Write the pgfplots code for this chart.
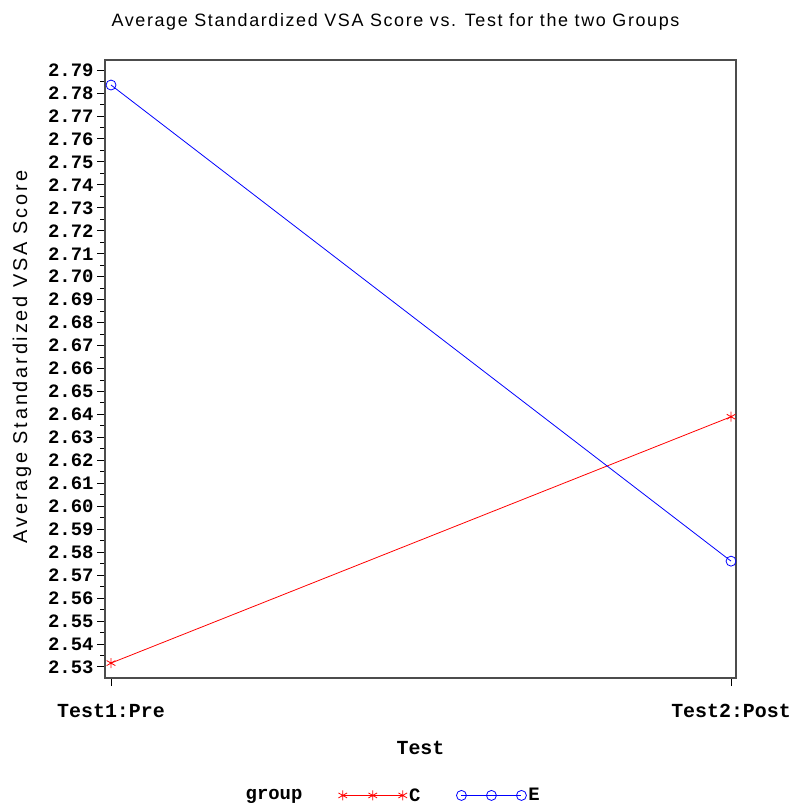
\documentclass[border=0pt]{standalone}
\usepackage{fontspec}
\setmainfont{Liberation Sans}
\newfontfamily\sasmono{Liberation Mono}
\newfontfamily\titlefont{Liberation Sans}[LetterSpace=9]
\newfontfamily\labelfont{Liberation Sans}[LetterSpace=14]
\usepackage{pgfplots}
\pgfplotsset{compat=1.18}

\begin{document}
\begin{tikzpicture}[x=1bp,y=1bp]
\begin{axis}[
  at={(0bp,0bp)}, anchor=south west,
  scale only axis,
  width=631bp, height=618bp,
  xmin=-0.0097, xmax=1.008,
  ymin=2.5252, ymax=2.7944,
  xtick={0,1},
  xticklabels={Test1:Pre,Test2:Post},
  ytick distance=0.01,
  minor y tick num=1,
  tick align=outside,
  major tick length=8bp,
  minor tick length=5bp,
  xtick pos=bottom, ytick pos=left,
  tick style={black, line width=1pt},
  axis line style={black!70, line width=1.5pt},
  /pgf/number format/assume math mode=true,
  yticklabel style={font=\fontsize{19}{19}\selectfont\sasmono\bfseries,
    /pgf/number format/fixed, /pgf/number format/fixed zerofill,
    /pgf/number format/precision=2},
  xticklabel style={font=\fontsize{20}{20}\selectfont\sasmono\bfseries, yshift=-15bp},
  xlabel={Test},
  xlabel style={font=\fontsize{20}{20}\selectfont\sasmono\bfseries, yshift=-16bp},
  ylabel={Average Standardized VSA Score},
  ylabel style={font=\fontsize{20}{20}\selectfont\labelfont, yshift=10bp, xshift=12bp},
  title={Average Standardized VSA Score vs. Test for the two Groups},
  title style={font=\fontsize{18}{18}\selectfont\titlefont, yshift=20bp, xshift=-25bp},
  legend columns=3,
  legend style={at={(0.456,-0.19)}, anchor=center, draw=none,
    font=\fontsize{19}{19}\selectfont\sasmono\bfseries,
    /tikz/every even column/.append style={column sep=34bp}},
  legend image code/.code={\draw[#1] plot coordinates {(0bp,0bp) (30bp,0bp) (60bp,0bp)};},
]
\addlegendimage{empty legend}
\addlegendentry{group}
\addplot[red, line width=0.8pt, mark=asterisk, mark size=5bp] coordinates {
  (0,2.5317) (1,2.6390)};
\addlegendentry{C}
\addplot[blue, line width=0.8pt, mark=o, mark size=5bp] coordinates {
  (0,2.7835) (1,2.5761)};
\addlegendentry{E}
\end{axis}
\pgfresetboundingbox
\path (-105bp,-126bp) rectangle (685bp,678bp);
\end{tikzpicture}
\end{document}
